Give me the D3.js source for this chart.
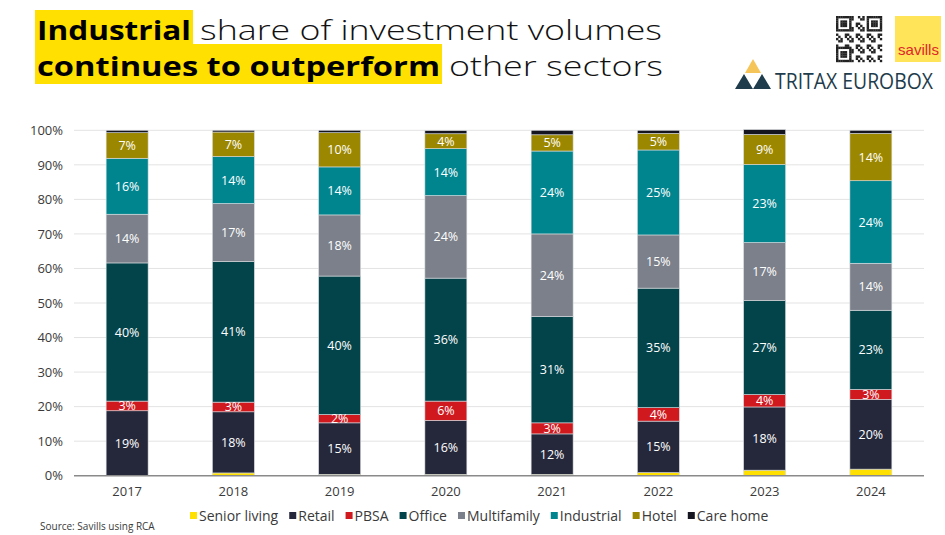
<!DOCTYPE html>
<html>
<head>
<meta charset="utf-8">
<script src="https://cdn.jsdelivr.net/npm/d3@7"></script>
<style>
  html, body { margin: 0; padding: 0; background: #fff; }
  svg { display: block; }
</style>
</head>
<body>
<svg id="chart" width="945" height="535"></svg>
<script>
// ---------- DATA ----------
const years = ["2017", "2018", "2019", "2020", "2021", "2022", "2023", "2024"];
const sectors = ["Senior living", "Retail", "PBSA", "Office", "Multifamily", "Industrial", "Hotel", "Care home"];
const seniorLiving = [0.0, 0.8, 0.4, 0.4, 0.4, 0.9, 1.6, 1.9];
const retail       = [18.8, 17.7, 14.9, 15.6, 11.7, 14.9, 18.3, 20.2];
const pbsa         = [2.8, 2.8, 2.4, 5.6, 3.2, 3.9, 3.6, 2.9];
const office       = [40.0, 40.7, 40.1, 35.6, 30.8, 34.6, 27.2, 22.9];
const multifamily  = [14.1, 16.8, 17.7, 23.9, 23.9, 15.4, 16.8, 13.6];
const industrial   = [16.2, 13.6, 13.9, 13.6, 24.0, 24.6, 22.6, 23.9];
const hotel        = [7.4, 7.1, 9.9, 4.3, 4.7, 4.8, 8.7, 13.7];
const careHome     = [0.7, 0.5, 0.7, 0.9, 1.3, 0.9, 1.4, 0.9];
const yTicks = [0, 10, 20, 30, 40, 50, 60, 70, 80, 90, 100];
const labelledSectors = ["Retail", "PBSA", "Office", "Multifamily", "Industrial", "Hotel"];
const colors = ["#FFE000", "#25283B", "#D0191F", "#03434A", "#7B808A", "#00858F", "#9C8700", "#15151F"];

const seriesValues = [seniorLiving, retail, pbsa, office, multifamily, industrial, hotel, careHome];
const table = years.map((y, i) => {
  const row = { year: y };
  sectors.forEach((s, k) => row[s] = seriesValues[k][i]);
  return row;
});

// ---------- LAYOUT ----------
const svg = d3.select("#chart");
const FONT = "'Open Sans', 'Noto Sans', sans-serif";
const plot = { left: 74, right: 924, top: 130.3, bottom: 475.7 };

const x = d3.scaleBand().domain(years).range([plot.left, plot.right]).paddingInner(0.605).paddingOuter(0.3025);
const y = d3.scaleLinear().domain([0, 100]).range([plot.bottom, plot.top]);

// gridlines
svg.append("g").selectAll("line").data(yTicks.filter(d => d > 0)).join("line")
  .attr("x1", plot.left).attr("x2", plot.right)
  .attr("y1", d => y(d)).attr("y2", d => y(d))
  .attr("stroke", "#e3e3e3").attr("stroke-width", 1);

// y axis labels
const yAxis = d3.axisLeft(y).tickValues(yTicks).tickFormat(d => d + "%").tickSize(0).tickPadding(11);
const yg = svg.append("g").attr("transform", `translate(${plot.left},0)`).call(yAxis);
yg.select(".domain").remove();
yg.selectAll("text").attr("font-family", FONT).attr("font-size", 13).attr("fill", "#3a3a3a");

// stacked bars
const stack = d3.stack().keys(sectors);
const stacked = stack(table);
const bars = svg.append("g");
stacked.forEach((layer, k) => {
  bars.append("g").attr("fill", colors[k]).selectAll("rect").data(layer).join("rect")
    .attr("x", d => x(d.data.year))
    .attr("width", x.bandwidth())
    .attr("y", d => y(d[1]))
    .attr("height", d => Math.max(0, y(d[0]) - y(d[1])))
    .attr("stroke", "#d9dde0").attr("stroke-width", 0.6);
});

// value labels
const labels = svg.append("g");
stacked.forEach((layer, k) => {
  if (!labelledSectors.includes(sectors[k])) return;
  labels.selectAll(null).data(layer).join("text")
    .attr("x", d => x(d.data.year) + x.bandwidth() / 2)
    .attr("y", d => (y(d[0]) + y(d[1])) / 2)
    .attr("dy", "0.36em")
    .attr("text-anchor", "middle")
    .attr("font-family", FONT).attr("font-size", 12.5)
    .attr("fill", "#ffffff")
    .text(d => Math.round(d[1] - d[0]) + "%");
});

// baseline
svg.append("line").attr("x1", plot.left).attr("x2", plot.right)
  .attr("y1", y(0)).attr("y2", y(0)).attr("stroke", "#8a8a8a").attr("stroke-width", 1.5);

// x axis
const xAxis = d3.axisBottom(x).tickSize(0).tickPadding(11);
const xg = svg.append("g").attr("transform", `translate(0,${plot.bottom})`).call(xAxis);
xg.select(".domain").remove();
xg.selectAll("text").attr("font-family", FONT).attr("font-size", 13).attr("fill", "#3a3a3a");

// legend
const legend = svg.append("g");
let lx = 190;
sectors.forEach((s, k) => {
  legend.append("rect").attr("x", lx).attr("y", 512).attr("width", 7).attr("height", 7).attr("fill", colors[k]);
  const t = legend.append("text").attr("x", lx + 9).attr("y", 520.5)
    .attr("font-family", FONT).attr("font-size", 14).attr("fill", "#3a3a3a").text(s);
  lx += 9 + t.node().getComputedTextLength() + 11;
});

// source
svg.append("text").attr("x", 40).attr("y", 530).attr("font-family", FONT)
  .attr("font-size", 10).attr("fill", "#3a3a3a").text("Source: Savills using RCA");

// ---------- TITLE ----------
function titleLine(yBase, boldText, lightText, hlRight, totalRight, hlTop, hlBottom) {
  const g = svg.append("g");
  g.append("rect").attr("fill", "#FFE000")
    .attr("x", 35).attr("y", hlTop).attr("width", hlRight - 35 + 1).attr("height", hlBottom - hlTop);
  const b = g.append("text").attr("x", 37).attr("y", yBase).attr("font-family", FONT)
    .attr("font-weight", 700).attr("font-size", 27).attr("fill", "#000").text(boldText);
  b.attr("textLength", hlRight - 38).attr("lengthAdjust", "spacingAndGlyphs");
  const l = g.append("text").attr("x", hlRight + 8).attr("y", yBase).attr("font-family", FONT)
    .attr("font-weight", 300).attr("font-size", 27).attr("fill", "#111").text(lightText);
  l.attr("textLength", totalRight - hlRight - 8).attr("lengthAdjust", "spacingAndGlyphs");
}
titleLine(40, "Industrial", "share of investment volumes", 192, 662, 10, 44);
titleLine(76, "continues to outperform", "other sectors", 441, 663, 44, 84);

// ---------- LOGOS ----------
// QR-like block
const qr = svg.append("g").attr("transform", "translate(836,16)");
const qn = 21, qs = 46 / qn;
for (let r = 0; r < qn; r++) {
  for (let c = 0; c < qn; c++) {
    let on;
    const finder = (r < 7 && c < 7) || (r < 7 && c >= qn - 7) || (r >= qn - 7 && c < 7);
    if (finder) {
      const rr = r < 7 ? r : r - (qn - 7), cc = c < 7 ? c : c - (qn - 7);
      on = (rr === 0 || rr === 6 || cc === 0 || cc === 6) || (rr >= 2 && rr <= 4 && cc >= 2 && cc <= 4);
    } else {
      on = ((r * 7 + c * 13 + r * c) % 5) < 2;
    }
    if (on) qr.append("rect").attr("x", c * qs).attr("y", r * qs).attr("width", qs + 0.2).attr("height", qs + 0.2).attr("fill", "#222");
  }
}
// Savills
svg.append("rect").attr("x", 895).attr("y", 16).attr("width", 46).attr("height", 46).attr("fill", "#FFE45A");
svg.append("text").attr("x", 898).attr("y", 55).attr("font-family", "Arial, 'Liberation Sans', sans-serif")
  .attr("font-size", 15).attr("fill", "#E0262B").attr("textLength", 41).attr("lengthAdjust", "spacingAndGlyphs").text("savills");
// Tritax Eurobox
const tt = svg.append("g");
tt.append("path").attr("d", "M753,59 L761,73 L745,73 Z").attr("fill", "#F6C55A");
tt.append("path").attr("d", "M744,74 L753,89 L735,89 Z").attr("fill", "#1E3C4B");
tt.append("path").attr("d", "M762,74 L771,89 L753,89 Z").attr("fill", "#1E3C4B");
const te = tt.append("text").attr("x", 775).attr("y", 89).attr("font-family", "'Open Sans', sans-serif")
  .attr("font-size", 21).attr("fill", "#1E3C4B").text("TRITAX EUROBOX");
te.attr("textLength", 933 - 775).attr("lengthAdjust", "spacingAndGlyphs");
</script>
</body>
</html>
